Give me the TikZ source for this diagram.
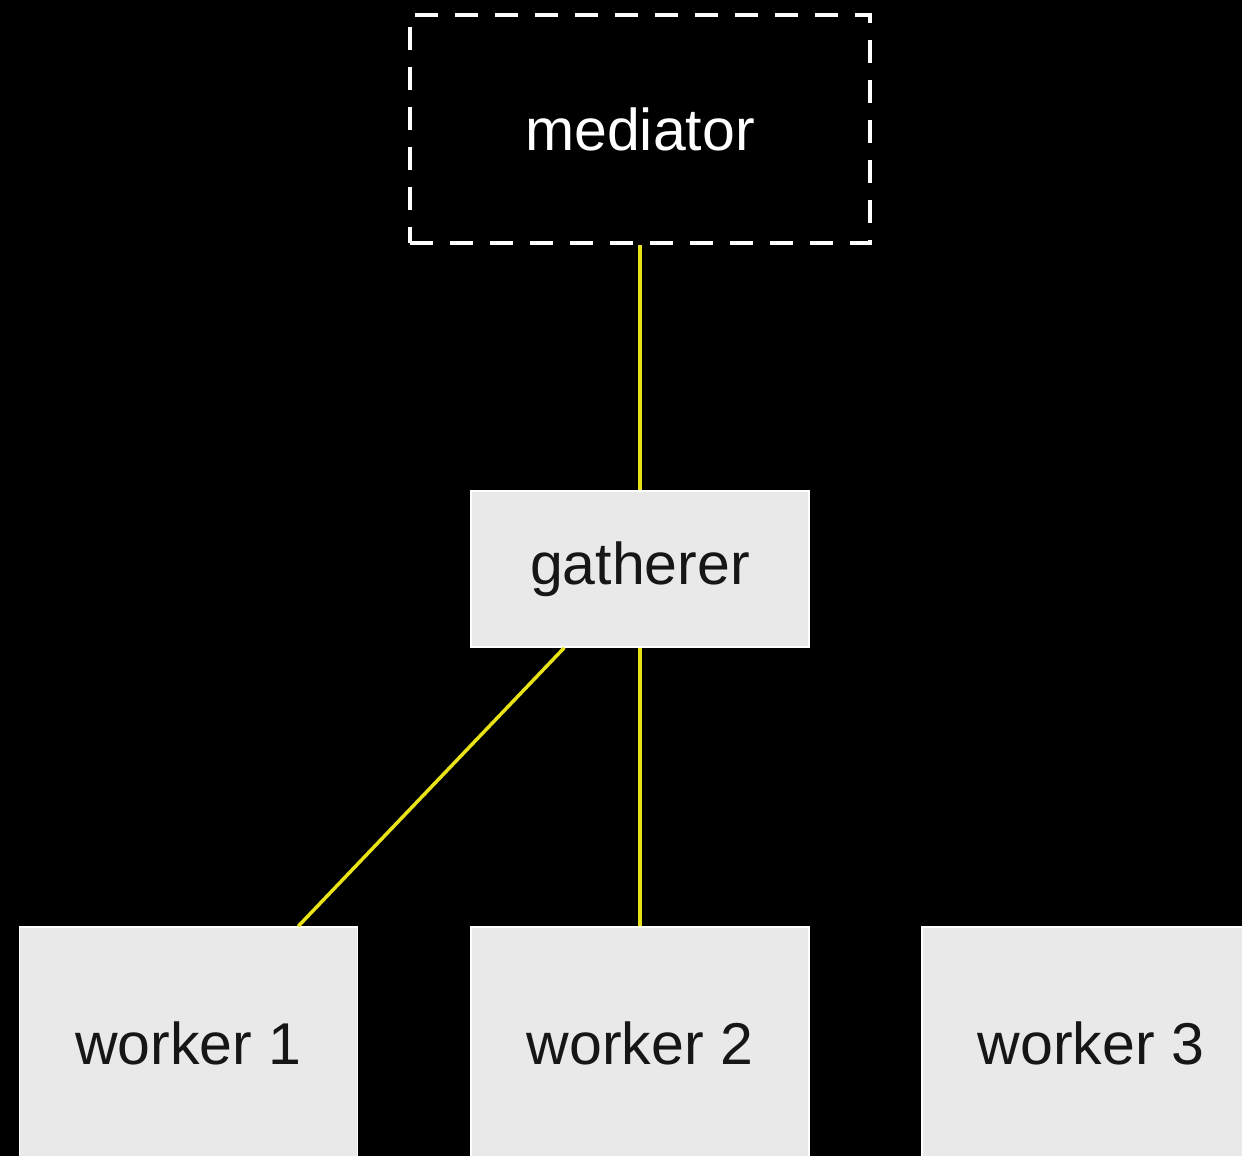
\documentclass[tikz,border=0pt]{standalone}
\usepackage{fontspec}
\setmainfont{Liberation Sans}
\usetikzlibrary{calc}
\definecolor{boxfill}{RGB}{233,233,233}
\definecolor{wire}{RGB}{232,226,24}
\definecolor{ink}{RGB}{22,22,22}
\begin{document}
\begin{tikzpicture}[x=1pt,y=-1pt,
  box/.style={draw=white,line width=1.5pt,fill=boxfill,text=ink,
    minimum width=338pt,inner sep=0pt,font=\fontsize{59}{70}\selectfont},
  ghost/.style={draw=white,line width=4pt,dash pattern=on 23pt off 17pt,
    minimum width=460pt,minimum height=228pt,inner sep=0pt,text=white,
    font=\fontsize{59}{70}\selectfont},
  link/.style={wire,line width=3.5pt}]
  \fill[black] (0,0) rectangle (1242,1156);
  \useasboundingbox (0,0) rectangle (1242,1156);
  \clip (0,0) rectangle (1242,1156);
  % coordinator, drawn with a dashed outline
  \node[ghost] (mediator) at (640,129) {mediator};
  % middle tier
  \node[box,minimum height=156pt] (gatherer) at (640,569) {gatherer};
  % worker row, running past the lower edge
  \node[box,minimum height=232pt] (w1) at (188.5,1043) {worker 1};
  \node[box,minimum height=232pt] (w2) at (640,1043) {worker 2};
  \node[box,minimum height=232pt] (w3) at (1091,1043) {worker 3};
  % connectors
  \draw[link] (mediator.south) -- (gatherer.north);
  \draw[link] ($(gatherer.south west)+(94,0)$) -- ($(w1.north west)+(279.5,0)$);
  \draw[link] (gatherer.south) -- (w2.north);
\end{tikzpicture}
\end{document}
